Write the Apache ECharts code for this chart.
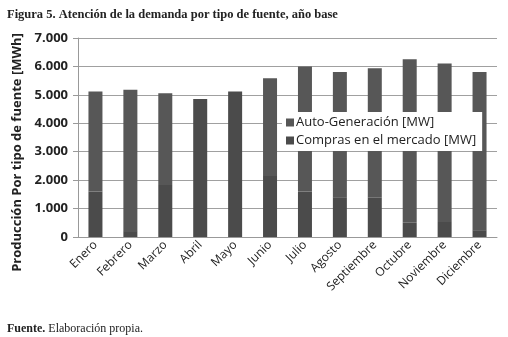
<!DOCTYPE html>
<html>
<head>
<meta charset="utf-8">
<script src="https://cdn.jsdelivr.net/npm/echarts@6/dist/echarts.min.js"></script>
<style>
  html, body { margin: 0; padding: 0; background: #fff; }
  #chart { width: 508px; height: 337px; }
</style>
</head>
<body>
<div id="chart"></div>
<script>
// meses y valores (MWh)
var months = ["Enero", "Febrero", "Marzo", "Abril", "Mayo", "Junio", "Julio",
  "Agosto", "Septiembre", "Octubre", "Noviembre", "Diciembre"];
var compras = [1600, 180, 1830, 4850, 5120, 2150, 1600, 1400, 1380, 500, 530, 240];
var autoGen = [3520, 5000, 3230, 0, 0, 3430, 4400, 4400, 4560, 5750, 5570, 5560];
var yTicks = [0, 1000, 2000, 3000, 4000, 5000, 6000, 7000];

var chart = echarts.init(document.getElementById("chart"));

function fmt(v) {
  return v === 0 ? "0" : (v / 1000).toFixed(3);
}

chart.setOption({
  animation: false,
  title: [
    {
      text: "Figura 5. Atención de la demanda por tipo de fuente, año base",
      left: 2,
      top: 3,
      textStyle: { fontFamily: "Liberation Serif", fontSize: 12.5, fontWeight: "bold", color: "#222" }
    },
    {
      text: "{b|Fuente.} Elaboración propia.",
      left: 2,
      top: 318,
      textStyle: {
        fontFamily: "Liberation Serif", fontSize: 12, fontWeight: "normal", color: "#222",
        rich: { b: { fontFamily: "Liberation Serif", fontSize: 12, fontWeight: "bold", color: "#222" } }
      }
    }
  ],
  legend: {
    data: ["Auto-Generación [MW]", "Compras en el mercado [MW]"],
    orient: "vertical",
    left: 282,
    top: 112,
    backgroundColor: "#fff",
    padding: [4, 6, 4, 4],
    itemGap: 5,
    itemWidth: 8,
    itemHeight: 8,
    icon: "rect",
    textStyle: { fontFamily: "Open Sans", fontSize: 13, color: "#222", padding: [0, 0, 0, -3] }
  },
  grid: { left: 78, right: 11, top: 38, bottom: 100 },
  xAxis: {
    type: "category",
    data: months,
    axisLine: { lineStyle: { color: "#999" } },
    axisTick: { lineStyle: { color: "#999" }, length: 5 },
    axisLabel: {
      rotate: 45,
      interval: 0,
      margin: 6,
      fontFamily: "Open Sans",
      fontSize: 12,
      color: "#222"
    }
  },
  yAxis: {
    type: "value",
    min: 0,
    max: 7000,
    interval: 1000,
    name: "Producción Por tipo de fuente [MWh]",
    nameLocation: "middle",
    nameGap: 54,
    nameTextStyle: {
      fontFamily: "Open Sans", fontSize: 13, fontWeight: "bold", color: "#222",
      padding: [0, 30, 0, 0]
    },
    axisLine: { show: true, lineStyle: { color: "#999" } },
    axisTick: { show: true, length: 5, lineStyle: { color: "#999" } },
    axisLabel: {
      margin: 10,
      fontFamily: "Open Sans",
      fontSize: 13,
      fontWeight: "bold",
      color: "#222",
      formatter: function (v) { return yTicks.indexOf(v) >= 0 ? fmt(v) : ""; }
    },
    splitLine: { lineStyle: { color: "#a0a0a0", width: 1 } }
  },
  series: [
    {
      name: "Compras en el mercado [MW]",
      type: "bar",
      stack: "total",
      barWidth: 14,
      itemStyle: { color: "#4b4b4b" },
      data: compras
    },
    {
      name: "Auto-Generación [MW]",
      type: "bar",
      stack: "total",
      barWidth: 14,
      itemStyle: { color: "#575757" },
      data: autoGen
    }
  ]
});
</script>
</body>
</html>
